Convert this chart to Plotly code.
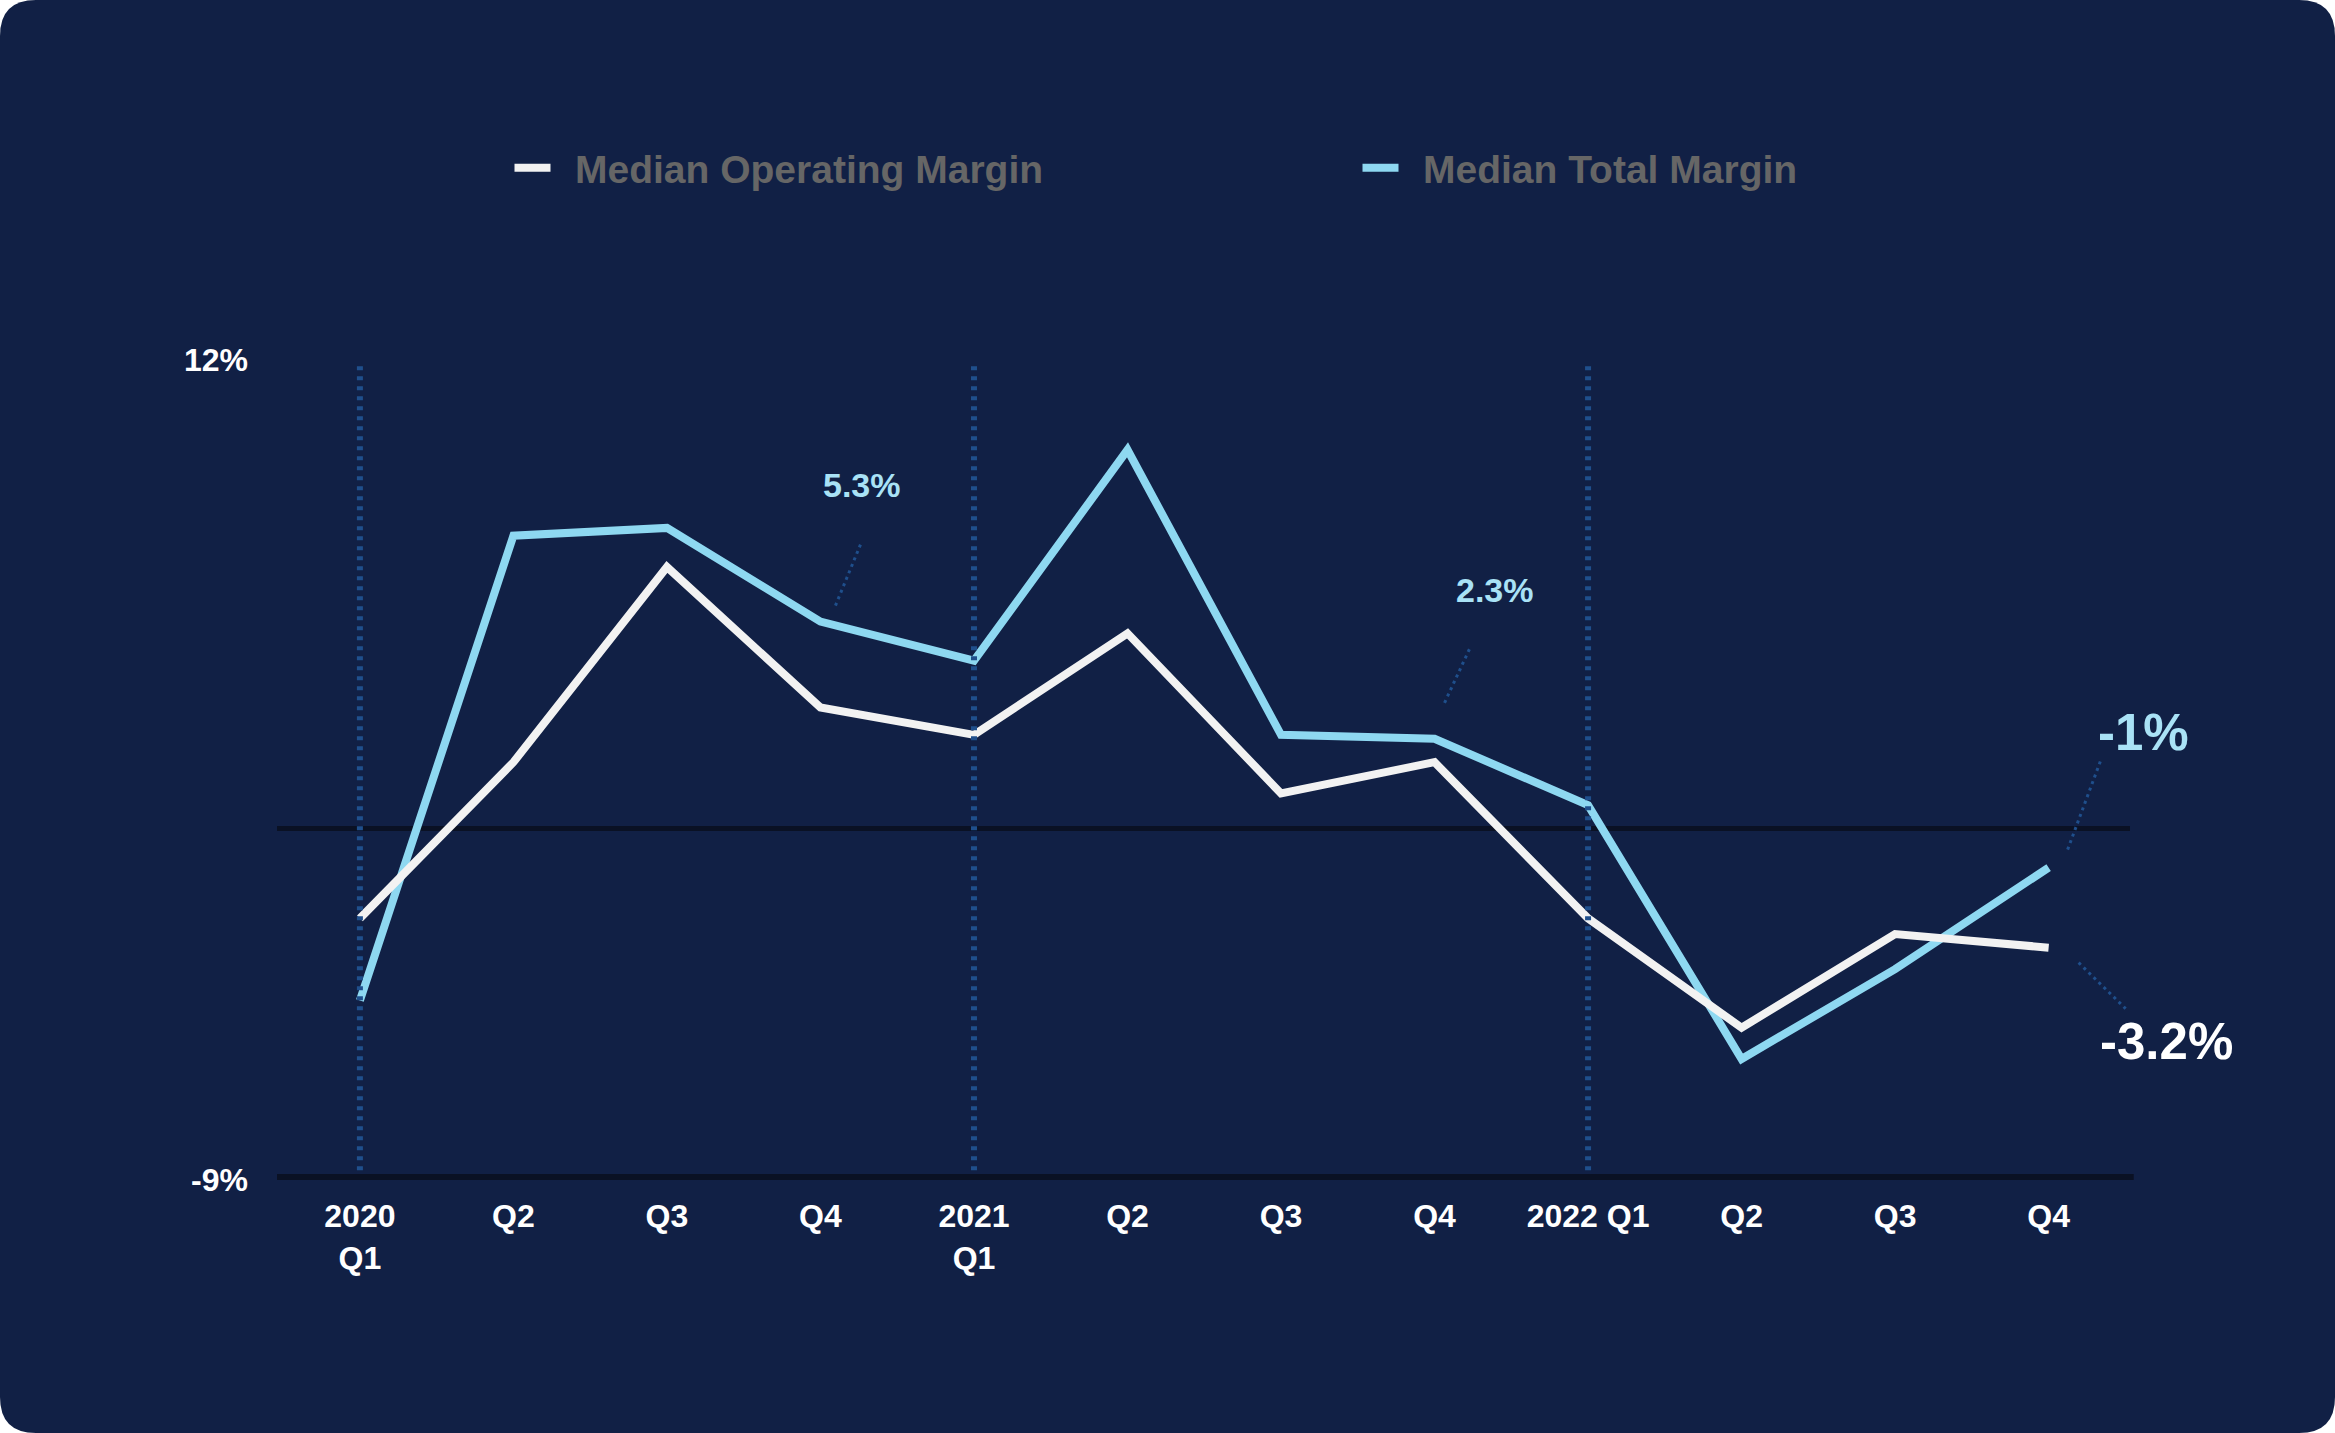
import plotly.graph_objects as go

# ---------------- data ----------------
quarters = ["2020 Q1", "2020 Q2", "2020 Q3", "2020 Q4",
            "2021 Q1", "2021 Q2", "2021 Q3", "2021 Q4",
            "2022 Q1", "2022 Q2", "2022 Q3", "2022 Q4"]
tick_labels = ["2020<br>Q1", "Q2", "Q3", "Q4",
               "2021<br>Q1", "Q2", "Q3", "Q4",
               "2022 Q1", "Q2", "Q3", "Q4"]
operating_margin = [-2.3, 1.7, 6.7, 3.1, 2.4, 5.0, 0.9, 1.7, -2.3, -5.1, -2.7, -3.05]
total_margin = [-4.4, 7.5, 7.7, 5.3, 4.3, 9.7, 2.4, 2.3, 0.6, -5.9, -3.6, -1.0]
y_tick_values = [-9, 12]
y_tick_labels = ["-9%", "12%"]
series_names = ["Median Operating Margin", "Median Total Margin"]
callout_texts = ["5.3%", "2.3%", "-1%", "-3.2%"]

# ---------------- style ----------------
W, H = 2335, 1433
ML, MR, MT, MB = 277, 205, 360, 253
PW, PH = W - ML - MR, H - MT - MB
NAVY = "#112045"
GRID = "#0a1124"
DOT = "#1f4f8c"
WHITE = "#f2f2f2"
BLUE = "#8ed8f1"
LABEL_BLUE = "#a9e2f6"
FONT = "Liberation Sans, Arial, Helvetica, sans-serif"


def px_x(px):
    return (px - ML) / PW


def px_y(py):
    return 1 - (py - MT) / PH


fig = go.Figure()

fig.add_trace(go.Scatter(
    x=quarters, y=total_margin, mode="lines", name="\u2002" + series_names[1],
    line=dict(color=BLUE, width=8), legendrank=2, hoverinfo="skip"))
fig.add_trace(go.Scatter(
    x=quarters, y=operating_margin, mode="lines", name="\u2002" + series_names[0],
    line=dict(color=WHITE, width=8), legendrank=1, hoverinfo="skip"))

shapes = []
# rounded navy card
r = 36
path = (f"M{px_x(r)},{px_y(0)} L{px_x(W - r)},{px_y(0)} "
        f"Q{px_x(W)},{px_y(0)} {px_x(W)},{px_y(r)} "
        f"L{px_x(W)},{px_y(H - r)} Q{px_x(W)},{px_y(H)} {px_x(W - r)},{px_y(H)} "
        f"L{px_x(r)},{px_y(H)} Q{px_x(0)},{px_y(H)} {px_x(0)},{px_y(H - r)} "
        f"L{px_x(0)},{px_y(r)} Q{px_x(0)},{px_y(0)} {px_x(r)},{px_y(0)} Z")
shapes.append(dict(type="path", xref="paper", yref="paper", path=path,
                   fillcolor=NAVY, line=dict(width=0), layer="below"))
# thick baseline at the axis minimum
shapes.append(dict(type="line", xref="paper", yref="y", x0=0, x1=1.002,
                   y0=y_tick_values[0], y1=y_tick_values[0],
                   line=dict(color=GRID, width=12), layer="below"))
# year separators (dotted) at each Q1
for q in quarters:
    if q.endswith("Q1"):
        shapes.append(dict(type="line", xref="x", yref="paper", x0=q, x1=q,
                           y0=0.012, y1=0.994,
                           line=dict(color=DOT, width=6, dash="4px,6px"),
                           layer="above"))

# callouts: (series values, index, color, size, leader start/end offsets, label offset)
callouts = [
    (total_margin, 3, LABEL_BLUE, 34, (15, 16), (40, 77), (42, 137)),
    (total_margin, 7, LABEL_BLUE, 34, (10, 36), (36, 92), (60, 149)),
    (total_margin, 11, LABEL_BLUE, 51, (19, 18), (52, 107), (95, 135)),
    (operating_margin, 11, "#ffffff", 51, (30, -15), (77, -61), (118, -94)),
]
annotations = []
for (vals, i, col, size, p0, p1, lab), txt in zip(callouts, callout_texts):
    shapes.append(dict(type="line", xref="x", yref="y",
                       xsizemode="pixel", ysizemode="pixel",
                       xanchor=quarters[i], yanchor=vals[i],
                       x0=p0[0], y0=p0[1], x1=p1[0], y1=p1[1],
                       line=dict(color=DOT, width=3, dash="3px,4px"),
                       layer="above"))
    annotations.append(dict(x=quarters[i], y=vals[i], xref="x", yref="y",
                            text=txt, showarrow=False,
                            xshift=lab[0], yshift=lab[1],
                            font=dict(family=FONT, size=size, color=col, weight="bold")))

fig.update_layout(
    width=W, height=H,
    margin=dict(l=ML, r=MR, t=MT, b=MB),
    paper_bgcolor="#ffffff",
    plot_bgcolor=NAVY,
    shapes=shapes,
    annotations=annotations,
    showlegend=True,
    legend=dict(orientation="h", x=px_x(509.5), xanchor="left",
                y=px_y(168), yanchor="middle",
                font=dict(family=FONT, size=39, color="#666666", weight="bold"),
                itemwidth=36, entrywidth=797, entrywidthmode="pixels",
                bgcolor="rgba(0,0,0,0)"),
    xaxis=dict(type="category", range=[-0.54, 11.53],
               tickmode="array", tickvals=quarters, ticktext=tick_labels,
               showgrid=False, zeroline=False, showline=False, ticks="",
               ticklabelstandoff=14,
               tickfont=dict(family=FONT, size=32, color="#ffffff", weight="bold")),
    yaxis=dict(range=[y_tick_values[0], y_tick_values[1]],
               tickmode="array", tickvals=y_tick_values, ticktext=y_tick_labels,
               showgrid=True, gridcolor=GRID, gridwidth=5,
               zeroline=True, zerolinecolor=GRID, zerolinewidth=5,
               showline=False, ticks="", ticklabelstandoff=28,
               tickfont=dict(family=FONT, size=32, color="#ffffff", weight="bold")),
)

fig.write_html("out.html", config={"displayModeBar": False},
               post_script="document.body.style.margin='0';document.body.style.overflow='hidden';")
